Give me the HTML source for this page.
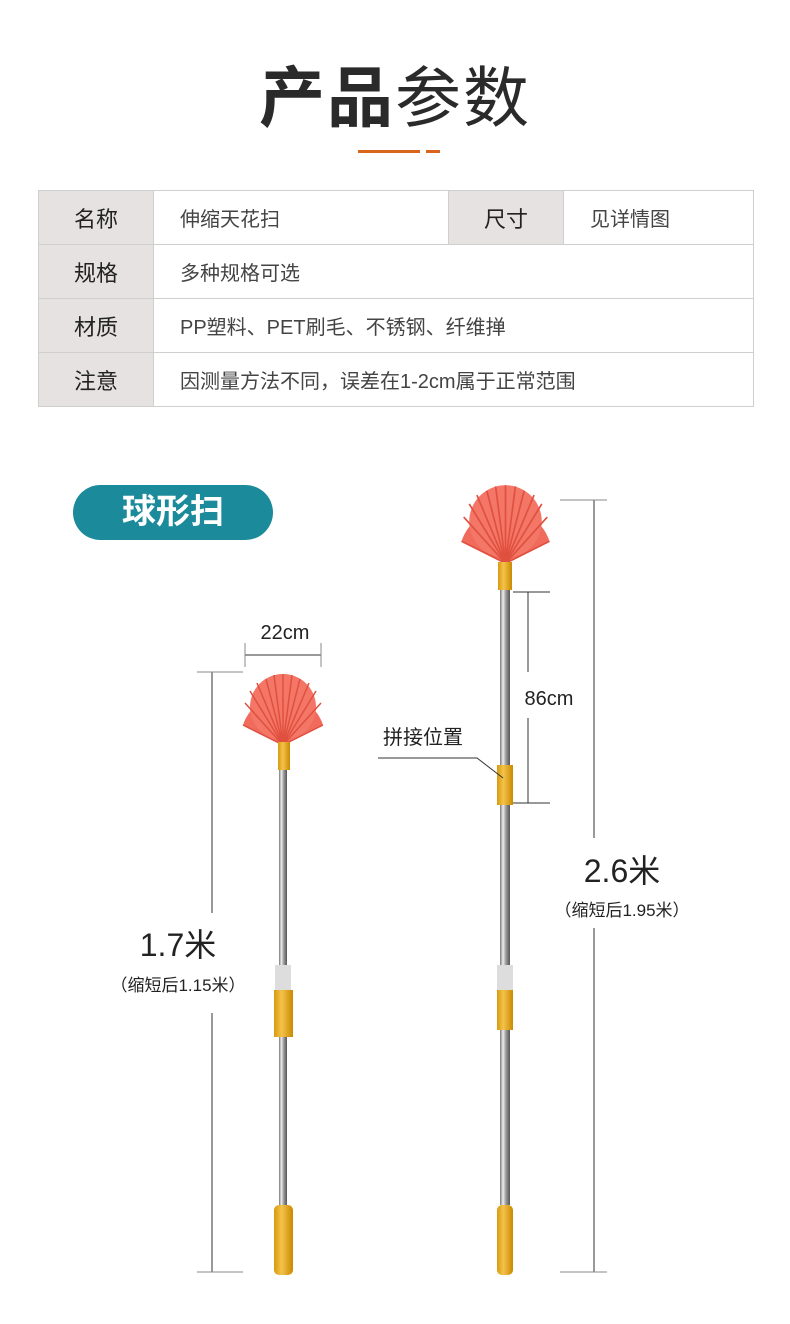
<!DOCTYPE html>
<html><head><meta charset="utf-8"><style>
body{margin:0;width:790px;height:1324px;background:#fff;position:relative;overflow:hidden;font-family:"Liberation Sans","Noto Sans CJK SC",sans-serif;}
.a{position:absolute;}
table{position:absolute;left:38px;top:190px;width:716px;border-collapse:collapse;}
td{border:1px solid #cfcfcf;height:53px;padding:0;font-size:20px;color:#444;}
td.l{background:#e5e2e1;color:#222;text-align:center;width:114px;font-size:22px;}
td.v{padding-left:26px;}
</style></head><body>
<div class="a" style="left:0;width:790px;top:58px;text-align:center;font-size:66px;color:#2a2a2a;line-height:80px;letter-spacing:2px"><b>产品</b>参数</div>
<div class="a" style="left:358px;top:150px;width:62px;height:3px;background:#d9651c"></div>
<div class="a" style="left:426px;top:150px;width:14px;height:3px;background:#d9651c"></div>
<table>
<tr><td class="l">名称</td><td class="v" style="width:268px">伸缩天花扫</td><td class="l">尺寸</td><td class="v">见详情图</td></tr>
<tr><td class="l">规格</td><td class="v" colspan="3">多种规格可选</td></tr>
<tr><td class="l">材质</td><td class="v" colspan="3">PP塑料、PET刷毛、不锈钢、纤维掸</td></tr>
<tr><td class="l">注意</td><td class="v" colspan="3">因测量方法不同，误差在1-2cm属于正常范围</td></tr>
</table>
<div class="a" style="left:73px;top:485px;width:200px;height:55px;border-radius:28px;background:#1b8a9a;color:#fff;font-size:34px;font-weight:bold;text-align:center;line-height:55px">球形扫</div>
<svg class="a" style="left:0;top:0" width="790" height="1324">
<defs>
<linearGradient id="st" x1="0" x2="1"><stop offset="0" stop-color="#777"/><stop offset=".3" stop-color="#eee"/><stop offset=".6" stop-color="#999"/><stop offset="1" stop-color="#555"/></linearGradient>
<linearGradient id="gd" x1="0" x2="1"><stop offset="0" stop-color="#d89a10"/><stop offset=".4" stop-color="#f4c24a"/><stop offset="1" stop-color="#c98a00"/></linearGradient>
<g id="head">
<path d="M0,0 L-40,-20 A42,42 0 0 1 40,-20 Z" fill="#f06b5c"/>
<circle cx="0" cy="-38" r="33" fill="#f37666"/>
<g stroke="#e0503f" stroke-width="1.5">
<line x1="0" y1="0" x2="-40" y2="-20"/><line x1="0" y1="0" x2="-38" y2="-42"/><line x1="0" y1="0" x2="-26" y2="-62"/><line x1="0" y1="0" x2="-9" y2="-70"/><line x1="0" y1="0" x2="9" y2="-70"/><line x1="0" y1="0" x2="26" y2="-62"/><line x1="0" y1="0" x2="38" y2="-42"/><line x1="0" y1="0" x2="40" y2="-20"/><line x1="0" y1="0" x2="-17" y2="-66"/><line x1="0" y1="0" x2="17" y2="-66"/><line x1="0" y1="0" x2="0" y2="-71"/><line x1="0" y1="0" x2="-33" y2="-54"/><line x1="0" y1="0" x2="33" y2="-54"/>
</g>
</g>
</defs>
<use href="#head" x="283" y="745"/>
<rect x="278" y="742" width="12" height="28" fill="url(#gd)"/>
<rect x="279" y="770" width="8" height="195" fill="url(#st)"/>
<rect x="275" y="965" width="16" height="25" fill="#ddd"/>
<rect x="274" y="990" width="19" height="47" fill="url(#gd)"/>
<rect x="279" y="1037" width="8" height="168" fill="url(#st)"/>
<rect x="274" y="1205" width="19" height="70" rx="5" fill="url(#gd)"/>
<use href="#head" x="505" y="563" transform="translate(-50 -56) scale(1.1)"/>
<rect x="498" y="562" width="14" height="28" fill="url(#gd)"/>
<rect x="500" y="590" width="10" height="175" fill="url(#st)"/>
<rect x="497" y="765" width="16" height="40" fill="url(#gd)"/>
<rect x="500" y="805" width="10" height="160" fill="url(#st)"/>
<rect x="497" y="965" width="16" height="25" fill="#ddd"/>
<rect x="497" y="990" width="16" height="40" fill="url(#gd)"/>
<rect x="500" y="1030" width="10" height="175" fill="url(#st)"/>
<rect x="497" y="1205" width="16" height="70" rx="5" fill="url(#gd)"/>
<g stroke="#333" stroke-width="1" fill="none">
<line x1="212" y1="672" x2="212" y2="913"/><line x1="212" y1="1013" x2="212" y2="1272"/>
<line x1="197" y1="672" x2="243" y2="672" stroke="#888"/><line x1="197" y1="1272" x2="243" y2="1272" stroke="#888"/>
<line x1="245" y1="655" x2="321" y2="655"/><line x1="245" y1="643" x2="245" y2="667" stroke="#888"/><line x1="321" y1="643" x2="321" y2="667" stroke="#888"/>
<line x1="594" y1="500" x2="594" y2="838"/><line x1="594" y1="928" x2="594" y2="1272"/>
<line x1="560" y1="500" x2="607" y2="500" stroke="#888"/><line x1="560" y1="1272" x2="607" y2="1272" stroke="#888"/>
<line x1="528" y1="592" x2="528" y2="672"/><line x1="528" y1="718" x2="528" y2="803"/>
<line x1="513" y1="592" x2="550" y2="592"/><line x1="513" y1="803" x2="550" y2="803"/>
<polyline points="378,758 477,758 503,778"/>
</g>
<g font-family="Liberation Sans, Noto Sans CJK SC, sans-serif" fill="#222" text-anchor="middle">
<text x="285" y="639" font-size="20">22cm</text>
<text x="549" y="705" font-size="20">86cm</text>
<text x="423" y="744" font-size="20">拼接位置</text>
<text x="178" y="956" font-size="32">1.7米</text>
<text x="178" y="991" font-size="17">（缩短后1.15米）</text>
<text x="622" y="882" font-size="32">2.6米</text>
<text x="622" y="916" font-size="17">（缩短后1.95米）</text>
</g>
</svg>
</body></html>
